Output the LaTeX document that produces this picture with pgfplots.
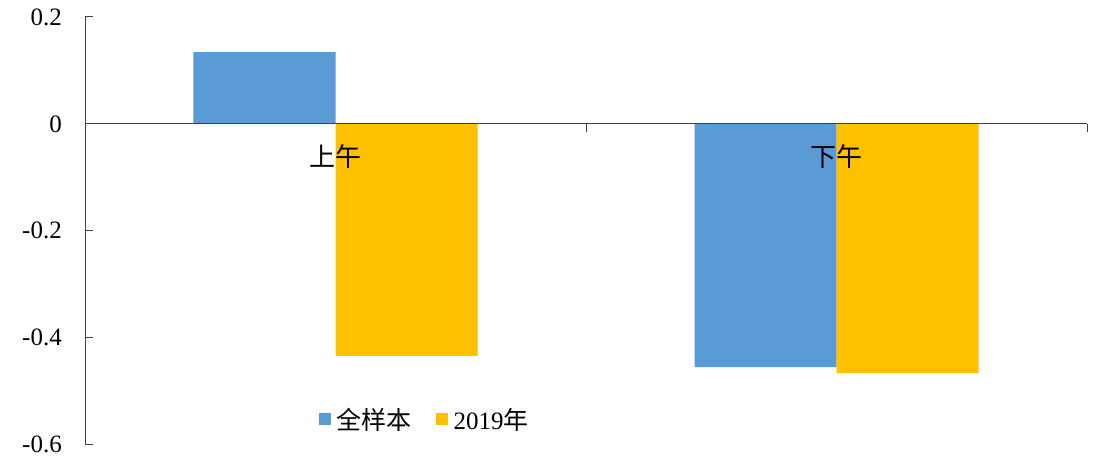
\documentclass[border=0pt]{standalone}
\usepackage{fontspec}
\setmainfont{Liberation Serif}
\newfontfamily\cjk{Noto Sans CJK SC}
\usepackage{pgfplots}
\pgfplotsset{compat=1.18}
\definecolor{cblue}{HTML}{5B9BD5}
\definecolor{cyel}{HTML}{FFC000}
\begin{document}
\begin{tikzpicture}
\begin{axis}[
  scale only axis,
  width=1002pt, height=427pt,
  xmin=-0.5, xmax=1.5,
  ymin=-0.6, ymax=0.2,
  axis y line=left,
  axis x line=middle,
  axis on top,
  axis line style={-, black!75, line width=1pt},
  ytick={-0.6,-0.4,-0.2,0,0.2},
  yticklabels={-0.6,-0.4,-0.2,0,0.2},
  yticklabel style={font=\fontsize{25}{29}\selectfont, inner sep=1pt, text depth=0pt, xshift=-22pt},
  ytick style={black!75, line width=1pt},
  y tick label style={anchor=east},
  xtick={0.5,1.5},
  xticklabels={},
  xtick style={black!75, line width=1pt},
  tick align=inside,
  major tick length=8pt,
  extra x ticks={0,1},
  extra x tick labels={{\cjk 上午},{\cjk 下午}},
  extra x tick style={major tick length=0pt, tick label style={font=\fontsize{26}{30}\selectfont, yshift=-17pt}},
  ybar=0pt,
  bar width=142pt,
  clip=false,
  legend style={draw=none, fill=none, at={(rel axis cs:0.339,0.058)}, anchor=center,
    font=\fontsize{25}{29}\selectfont, legend columns=2,
    /tikz/every odd column/.append style={column sep=4pt},
    /tikz/every even column/.append style={column sep=22pt}},
  legend image code/.code={\fill[#1] (0pt,-6pt) rectangle (12pt,6pt);},
]
\addplot[fill=cblue, draw=none, bar shift=-71pt] coordinates {(0,0.134) (1,-0.456)};
\addplot[fill=cyel, draw=none, bar shift=71pt] coordinates {(0,-0.435) (1,-0.467)};
\legend{{\cjk 全样本},{2019\cjk 年}}
\coordinate (bl) at (rel axis cs:0,0);
\coordinate (tr) at (rel axis cs:1,1);
\end{axis}
\pgfresetboundingbox
\path[use as bounding box] ([xshift=-85pt,yshift=-12pt]bl) rectangle ([xshift=8pt,yshift=17pt]tr);
\end{tikzpicture}
\end{document}
